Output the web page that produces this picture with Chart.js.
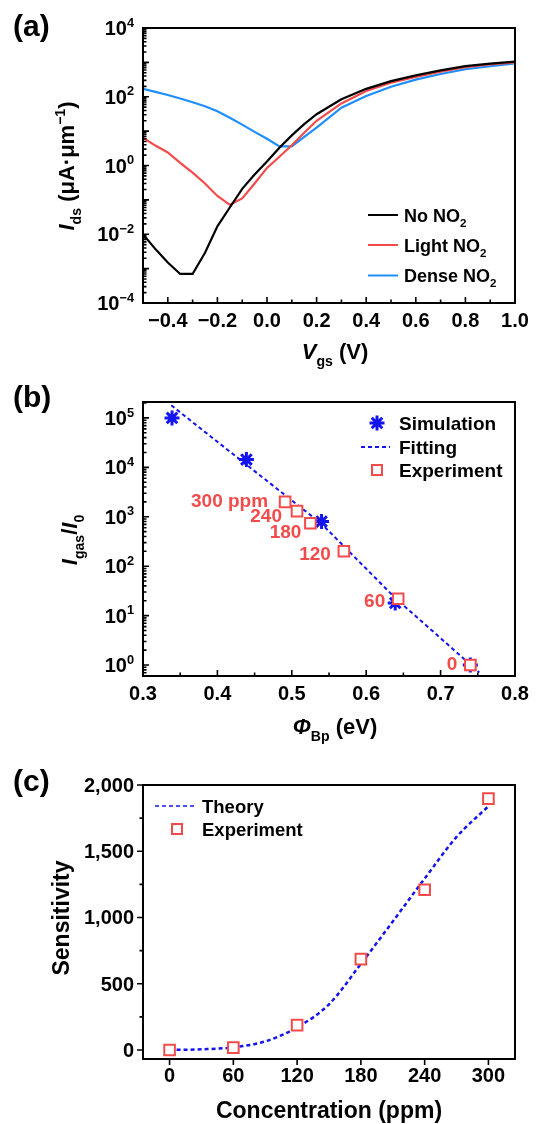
<!DOCTYPE html>
<html>
<head>
<meta charset="utf-8">
<script src="https://cdn.jsdelivr.net/npm/chart.js@4.4.1/dist/chart.umd.min.js"></script>
<style>
  html, body { margin: 0; padding: 0; background: #fff; }
  #wrap { position: relative; width: 536px; height: 1124px; overflow: hidden; }
  canvas { position: absolute; left: 0; }
</style>
</head>
<body>
<div id="wrap">
  <canvas id="chartA" width="536" height="370" style="top:0"></canvas>
  <canvas id="chartB" width="536" height="390" style="top:370px"></canvas>
  <canvas id="chartC" width="536" height="384" style="top:740px"></canvas>
</div>
<script>
// ---- (a) transfer curves ----
const vgs = [-0.5, -0.45, -0.4, -0.35, -0.3, -0.25, -0.2, -0.15, -0.1, -0.05, 0, 0.05, 0.1, 0.15, 0.2, 0.3, 0.4, 0.5, 0.6, 0.7, 0.8, 0.9, 1.0];
const idsNoNO2 = [1e-2, 3.7e-3, 1.5e-3, 7e-4, 7e-4, 2.9e-3, 1.7e-2, 6e-2, 0.21, 0.55, 1.3, 3.3, 7.5, 16, 31, 84, 170, 285, 420, 585, 780, 915, 1050];
const idsLight = [6.4, 3.8, 2.4, 1.2, 0.62, 0.3, 0.13, 0.072, 0.11, 0.3, 0.85, 1.8, 3.9, 9, 20, 64, 148, 257, 380, 540, 730, 870, 1000];
const idsDense = [170, 138, 112, 89, 69, 53, 38, 24.5, 15.5, 9.5, 6, 3.6, 3.6, 6.8, 12.6, 48, 105, 195, 316, 460, 630, 770, 930];
const vgsTicks = [-0.4, -0.2, 0, 0.2, 0.4, 0.6, 0.8, 1.0];
const vgsMinorTicks = [-0.5, -0.3, -0.1, 0.1, 0.3, 0.5, 0.7, 0.9];
const idsTickExp = [-4, -2, 0, 2, 4];

// ---- (b) barrier height vs. response ----
const simPhi = [0.339, 0.439, 0.54, 0.639, 0.74];
const simRatio = [1.0e5, 1.44e4, 800, 18, 1.0];
const fitPhi = [0.338, 0.44, 0.54, 0.64, 0.752];
const fitRatio = [1.8e5, 1.1e4, 720, 22, 0.71];
const expPhi = [0.491, 0.507, 0.525, 0.57, 0.643, 0.74];
const expRatio = [2000, 1300, 740, 200, 22, 1.0];
const expLabels = ['300 ppm', '240', '180', '120', '60', '0'];
const phiTicks = [0.3, 0.4, 0.5, 0.6, 0.7, 0.8];
const phiMinorTicks = [0.35, 0.45, 0.55, 0.65, 0.75];
const ratioTickExp = [0, 1, 2, 3, 4, 5];

// ---- (c) sensitivity vs. concentration ----
const conc = [0, 60, 120, 180, 240, 300];
const sensExp = [0, 18, 188, 686, 1209, 1897];
const theoryConc = [0, 30, 60, 90, 120, 150, 180, 210, 240, 270, 300];
const sensTheory = [0, 5, 20, 65, 171, 345, 650, 970, 1294, 1608, 1840];
const concTicks = [0, 60, 120, 180, 240, 300];
const sensTicks = [0, 500, 1000, 1500, 2000];
const sensMinorTicks = [250, 750, 1250, 1750];

const FONT = '"Liberation Sans", Arial, Helvetica, sans-serif';
const RED = '#f24b4b';
const BLUE = '#1414ee';

function fontOf(size, italic) {
  return (italic ? 'italic ' : '') + 'bold ' + size + 'px ' + FONT;
}

function partSize(p, size) {
  return (p.sub || p.sup) ? size * 0.64 : size;
}

function richWidth(ctx, parts, size) {
  let w = 0;
  parts.forEach(p => {
    ctx.font = fontOf(partSize(p, size), p.it);
    w += ctx.measureText(p.t).width;
  });
  return w;
}

// draws text with italic/sub/sup pieces on a baseline
function drawRich(ctx, parts, x, y, size, align, color) {
  const w = richWidth(ctx, parts, size);
  let cx = align === 'center' ? x - w / 2 : align === 'right' ? x - w : x;
  ctx.fillStyle = color || '#000';
  ctx.textAlign = 'left';
  ctx.textBaseline = 'alphabetic';
  parts.forEach(p => {
    ctx.font = fontOf(partSize(p, size), p.it);
    const dy = p.sub ? size * 0.3 : p.sup ? -size * 0.42 : 0;
    ctx.fillText(p.t, cx, y + dy);
    cx += ctx.measureText(p.t).width;
  });
}

function drawRotated(ctx, parts, x, y, size) {
  ctx.save();
  ctx.translate(x, y);
  ctx.rotate(-Math.PI / 2);
  drawRich(ctx, parts, 0, 0, size, 'center');
  ctx.restore();
}

function minus(s) { return s.replace('-', '\u2212'); }

function logMinors(min, max) {
  const out = [];
  for (let e = Math.floor(Math.log10(min)); e <= Math.ceil(Math.log10(max)); e++) {
    for (let m = 2; m <= 9; m++) {
      const v = m * Math.pow(10, e);
      if (v >= min && v <= max) out.push(v);
    }
  }
  return out;
}

function decoTicks(ctx, chart, spec) {
  const a = chart.chartArea, xs = chart.scales.x, ys = chart.scales.y;
  const dir = spec.inward ? 1 : -1;
  ctx.strokeStyle = '#000';
  ctx.lineWidth = 1.6;
  ctx.beginPath();
  const xt = (list, len) => list.forEach(v => {
    const px = xs.getPixelForValue(v);
    ctx.moveTo(px, a.bottom); ctx.lineTo(px, a.bottom - dir * len);
  });
  const yt = (list, len) => list.forEach(v => {
    const py = ys.getPixelForValue(v);
    ctx.moveTo(a.left, py); ctx.lineTo(a.left + dir * len, py);
  });
  xt(spec.xMajor, 6); xt(spec.xMinor, 3.5);
  yt(spec.yMajor, 6); yt(spec.yMinor, 3.5);
  ctx.stroke();
  ctx.lineWidth = 2;
  ctx.strokeRect(a.left, a.top, a.right - a.left, a.bottom - a.top);
}

function drawStar(ctx, x, y, r, color) {
  ctx.strokeStyle = color;
  ctx.lineWidth = 3;
  ctx.beginPath();
  for (let k = 0; k < 4; k++) {
    const ang = k * Math.PI / 4;
    ctx.moveTo(x - Math.cos(ang) * r, y - Math.sin(ang) * r);
    ctx.lineTo(x + Math.cos(ang) * r, y + Math.sin(ang) * r);
  }
  ctx.stroke();
}

function drawSquare(ctx, x, y, side, color) {
  ctx.fillStyle = '#fff';
  ctx.strokeStyle = color;
  ctx.lineWidth = 2;
  ctx.fillRect(x - side / 2, y - side / 2, side, side);
  ctx.strokeRect(x - side / 2, y - side / 2, side, side);
}

function baseOptions(padding, xScale, yScale) {
  return {
    responsive: false,
    animation: false,
    devicePixelRatio: 1,
    layout: { padding: padding },
    plugins: { legend: { display: false }, tooltip: { enabled: false } },
    scales: { x: xScale, y: yScale }
  };
}

function pts(xs, ys) { return xs.map((v, i) => ({ x: v, y: ys[i] })); }

// ---------- chart (a) ----------
const decoA = {
  id: 'decoA',
  afterDraw(chart) {
    const ctx = chart.ctx, a = chart.chartArea, xs = chart.scales.x, ys = chart.scales.y;
    ctx.save();
    decoTicks(ctx, chart, {
      inward: true,
      xMajor: vgsTicks, xMinor: vgsMinorTicks,
      yMajor: [-4, -3, -2, -1, 0, 1, 2, 3, 4].map(e => Math.pow(10, e)),
      yMinor: logMinors(1e-4, 1e4)
    });
    vgsTicks.forEach(v => {
      drawRich(ctx, [{ t: minus(v.toFixed(1)) }], xs.getPixelForValue(v), 327, 20, 'center');
    });
    idsTickExp.forEach(e => {
      drawRich(ctx, [{ t: '10' }, { t: minus(String(e)), sup: true }],
        a.left - 9, ys.getPixelForValue(Math.pow(10, e)) + 7, 20, 'right');
    });
    drawRich(ctx, [{ t: 'V', it: true }, { t: 'gs', sub: true }, { t: ' (V)' }], 335, 359, 22, 'center');
    drawRotated(ctx, [{ t: 'I', it: true }, { t: 'ds', sub: true }, { t: ' (\u03bcA\u00b7\u03bcm' }, { t: '\u22121', sup: true }, { t: ')' }], 74, 166, 22);
    drawRich(ctx, [{ t: '(a)' }], 13, 36, 30, 'left');
    // legend
    const rows = [
      { name: 'No NO', color: '#000', y: 215 },
      { name: 'Light NO', color: RED, y: 245 },
      { name: 'Dense NO', color: '#1e8fff', y: 275.5 }
    ];
    rows.forEach(r => {
      ctx.strokeStyle = r.color;
      ctx.lineWidth = 2;
      ctx.beginPath();
      ctx.moveTo(368, r.y); ctx.lineTo(398, r.y);
      ctx.stroke();
      drawRich(ctx, [{ t: r.name }, { t: '2', sub: true }], 404, r.y + 6.5, 18, 'left');
    });
    ctx.restore();
  }
};

new Chart(document.getElementById('chartA'), {
  type: 'line',
  data: {
    datasets: [
      { label: 'No NO2', data: pts(vgs, idsNoNO2), borderColor: '#000', borderWidth: 2.2, pointRadius: 0, tension: 0 },
      { label: 'Light NO2', data: pts(vgs, idsLight), borderColor: RED, borderWidth: 2.2, pointRadius: 0, tension: 0 },
      { label: 'Dense NO2', data: pts(vgs, idsDense), borderColor: '#1e8fff', borderWidth: 2.2, pointRadius: 0, tension: 0 }
    ]
  },
  options: baseOptions({ left: 143, right: 21, top: 28, bottom: 67 },
    { type: 'linear', min: -0.5, max: 1.0, display: false },
    { type: 'logarithmic', min: 1e-4, max: 1e4, display: false }),
  plugins: [decoA]
});

// ---------- chart (b) ----------
const labelOffsets = [[-17, -2], [-15, 4], [-9, 8], [-13, 2], [-13, 1], [-13, -2]];

const decoB = {
  id: 'decoB',
  afterDraw(chart) {
    const ctx = chart.ctx, a = chart.chartArea, xs = chart.scales.x, ys = chart.scales.y;
    ctx.save();
    decoTicks(ctx, chart, {
      inward: true,
      xMajor: phiTicks, xMinor: phiMinorTicks,
      yMajor: ratioTickExp.map(e => Math.pow(10, e)),
      yMinor: logMinors(ys.min, ys.max)
    });
    phiTicks.forEach(v => {
      drawRich(ctx, [{ t: v.toFixed(1) }], xs.getPixelForValue(v), 330, 20, 'center');
    });
    ratioTickExp.forEach(e => {
      drawRich(ctx, [{ t: '10' }, { t: String(e), sup: true }],
        a.left - 9, ys.getPixelForValue(Math.pow(10, e)) + 7, 20, 'right');
    });
    // point labels
    expLabels.forEach((t, i) => {
      const px = xs.getPixelForValue(expPhi[i]) + labelOffsets[i][0];
      const py = ys.getPixelForValue(expRatio[i]) + labelOffsets[i][1] + 7;
      drawRich(ctx, [{ t: t }], px, py, 19, 'right', RED);
    });
    drawRich(ctx, [{ t: '\u03a6', it: true }, { t: 'Bp', sub: true }, { t: ' (eV)' }], 335, 364, 22, 'center');
    drawRotated(ctx, [{ t: 'I', it: true }, { t: 'gas', sub: true }, { t: '/' }, { t: 'I', it: true }, { t: '0', sub: true }], 77, 170, 22);
    drawRich(ctx, [{ t: '(b)' }], 13, 37, 30, 'left');
    // legend
    drawStar(ctx, 377, 53, 7.5, BLUE);
    drawRich(ctx, [{ t: 'Simulation' }], 399, 60, 19, 'left');
    ctx.strokeStyle = BLUE;
    ctx.lineWidth = 2;
    ctx.setLineDash([4, 3]);
    ctx.beginPath(); ctx.moveTo(361, 77); ctx.lineTo(390, 77); ctx.stroke();
    ctx.setLineDash([]);
    drawRich(ctx, [{ t: 'Fitting' }], 399, 84, 19, 'left');
    drawSquare(ctx, 377, 100, 10, RED);
    drawRich(ctx, [{ t: 'Experiment' }], 399, 107, 19, 'left');
    ctx.restore();
  }
};

new Chart(document.getElementById('chartB'), {
  type: 'line',
  data: {
    datasets: [
      { label: 'Experiment', data: pts(expPhi, expRatio), showLine: false, order: 0,
        pointStyle: 'rect', pointRadius: 7.5, borderColor: RED, pointBorderWidth: 2, pointBackgroundColor: '#fff' },
      { label: 'Fitting', data: pts(fitPhi, fitRatio), order: 1, borderColor: BLUE, borderWidth: 2,
        borderDash: [4, 3], pointRadius: 0, tension: 0 },
      { label: 'Simulation', data: pts(simPhi, simRatio), showLine: false, order: 2,
        pointStyle: 'star', pointRadius: 7.5, borderColor: BLUE, pointBorderWidth: 3 }
    ]
  },
  options: baseOptions({ left: 143, right: 21, top: 32, bottom: 84 },
    { type: 'linear', min: 0.3, max: 0.8, display: false },
    { type: 'logarithmic', min: 0.63, max: 2.1e5, display: false }),
  plugins: [decoB]
});

// ---------- chart (c) ----------
const decoC = {
  id: 'decoC',
  afterDraw(chart) {
    const ctx = chart.ctx, a = chart.chartArea, xs = chart.scales.x, ys = chart.scales.y;
    ctx.save();
    decoTicks(ctx, chart, {
      inward: false,
      xMajor: concTicks, xMinor: [],
      yMajor: sensTicks, yMinor: sensMinorTicks
    });
    concTicks.forEach(v => {
      drawRich(ctx, [{ t: String(v) }], xs.getPixelForValue(v), 342, 20, 'center');
    });
    sensTicks.forEach(v => {
      drawRich(ctx, [{ t: v.toLocaleString('en-US') }], a.left - 9, ys.getPixelForValue(v) + 7, 20, 'right');
    });
    drawRich(ctx, [{ t: 'Concentration (ppm)' }], 329, 378, 23, 'center');
    drawRotated(ctx, [{ t: 'Sensitivity' }], 69, 178, 23);
    drawRich(ctx, [{ t: '(c)' }], 13, 51, 30, 'left');
    // legend
    ctx.strokeStyle = BLUE;
    ctx.lineWidth = 1.5;
    ctx.setLineDash([4, 3]);
    ctx.beginPath(); ctx.moveTo(155, 66); ctx.lineTo(194, 66); ctx.stroke();
    ctx.setLineDash([]);
    drawRich(ctx, [{ t: 'Theory' }], 202, 72.5, 18.5, 'left');
    drawSquare(ctx, 177, 89, 10, RED);
    drawRich(ctx, [{ t: 'Experiment' }], 202, 95.5, 18.5, 'left');
    ctx.restore();
  }
};

new Chart(document.getElementById('chartC'), {
  type: 'line',
  data: {
    datasets: [
      { label: 'Experiment', data: pts(conc, sensExp), showLine: false, order: 0,
        pointStyle: 'rect', pointRadius: 7.5, borderColor: RED, pointBorderWidth: 2, pointBackgroundColor: '#fff' },
      { label: 'Theory', data: pts(theoryConc, sensTheory), order: 1, borderColor: BLUE, borderWidth: 2.5,
        borderDash: [4, 3], pointRadius: 0, cubicInterpolationMode: 'monotone' }
    ]
  },
  options: baseOptions({ left: 143, right: 21, top: 45, bottom: 65 },
    { type: 'linear', min: -25, max: 325, display: false },
    { type: 'linear', min: -68, max: 2000, display: false }),
  plugins: [decoC]
});
</script>
</body>
</html>
